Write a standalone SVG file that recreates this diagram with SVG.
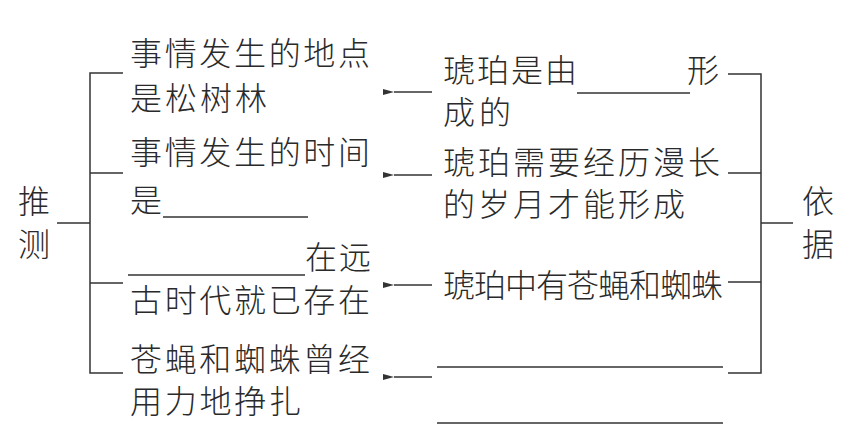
<svg xmlns="http://www.w3.org/2000/svg" width="852" height="434" viewBox="0 0 852 434">
<style>
text{font-family:"Noto Sans CJK SC","Noto Sans",sans-serif;font-size:32px;font-weight:300;fill:#2a2a2a}
.ln{stroke:#333;stroke-width:1.5;fill:none}
.ul{stroke:#333;stroke-width:1.3;fill:none}
</style>
<defs>
<marker id="ah" markerWidth="11" markerHeight="6" refX="0" refY="3" orient="auto" markerUnits="userSpaceOnUse">
<path d="M11,0 L0,3 L11,6 Z" fill="#333"/>
</marker>
</defs>
<rect width="852" height="434" fill="#fff"/>
<g id="tuice">
<text x="18" y="213">推</text>
<text x="18" y="256">测</text>
</g>
<g id="yiju">
<text x="802" y="213">依</text>
<text x="802" y="256">据</text>
</g>
<g id="left1">
<text x="130" y="65" textLength="240" lengthAdjust="spacing">事情发生的地点</text>
<text x="130" y="110" textLength="137" lengthAdjust="spacing">是松树林</text>
</g>
<g id="left2">
<text x="130" y="164" textLength="240" lengthAdjust="spacing">事情发生的时间</text>
<text x="130" y="212">是</text>
<line class="ul" x1="163" y1="217" x2="308" y2="217"/>
</g>
<g id="left3">
<line class="ul" x1="128" y1="275" x2="305" y2="275"/>
<text x="305" y="269" textLength="66" lengthAdjust="spacing">在远</text>
<text x="130" y="312" textLength="240" lengthAdjust="spacing">古时代就已存在</text>
</g>
<g id="left4">
<text x="130" y="371" textLength="240" lengthAdjust="spacing">苍蝇和蜘蛛曾经</text>
<text x="130" y="413" textLength="171" lengthAdjust="spacing">用力地挣扎</text>
</g>
<g id="right1">
<text x="443" y="82" textLength="134" lengthAdjust="spacing">琥珀是由</text>
<line class="ul" x1="577" y1="93" x2="690" y2="93"/>
<text x="687" y="82">形</text>
<text x="443" y="124" textLength="68" lengthAdjust="spacing">成的</text>
</g>
<g id="right2">
<text x="443" y="174" textLength="277" lengthAdjust="spacing">琥珀需要经历漫长</text>
<text x="443" y="216" textLength="242" lengthAdjust="spacing">的岁月才能形成</text>
</g>
<g id="right3">
<text x="443" y="297" textLength="280" lengthAdjust="spacing">琥珀中有苍蝇和蜘蛛</text>
</g>
<g id="right4">
<line class="ul" x1="437" y1="367" x2="723" y2="367"/>
<line class="ul" x1="437" y1="423" x2="723" y2="423"/>
</g>
<g id="connectors">
<path class="ln" d="M57,223 H90 M123,73 H90 V373 H123 M90,173 H123 M90,283 H123"/>
<path class="ln" d="M793,223 H761 M728,74 H761 V373 H728 M761,173 H728 M761,282 H728"/>
<line class="ln" x1="432" y1="92" x2="394" y2="92" marker-end="url(#ah)"/>
<line class="ln" x1="432" y1="175" x2="394" y2="175" marker-end="url(#ah)"/>
<line class="ln" x1="432" y1="285" x2="394" y2="285" marker-end="url(#ah)"/>
<line class="ln" x1="432" y1="377" x2="394" y2="377" marker-end="url(#ah)"/>
</g>
</svg>
